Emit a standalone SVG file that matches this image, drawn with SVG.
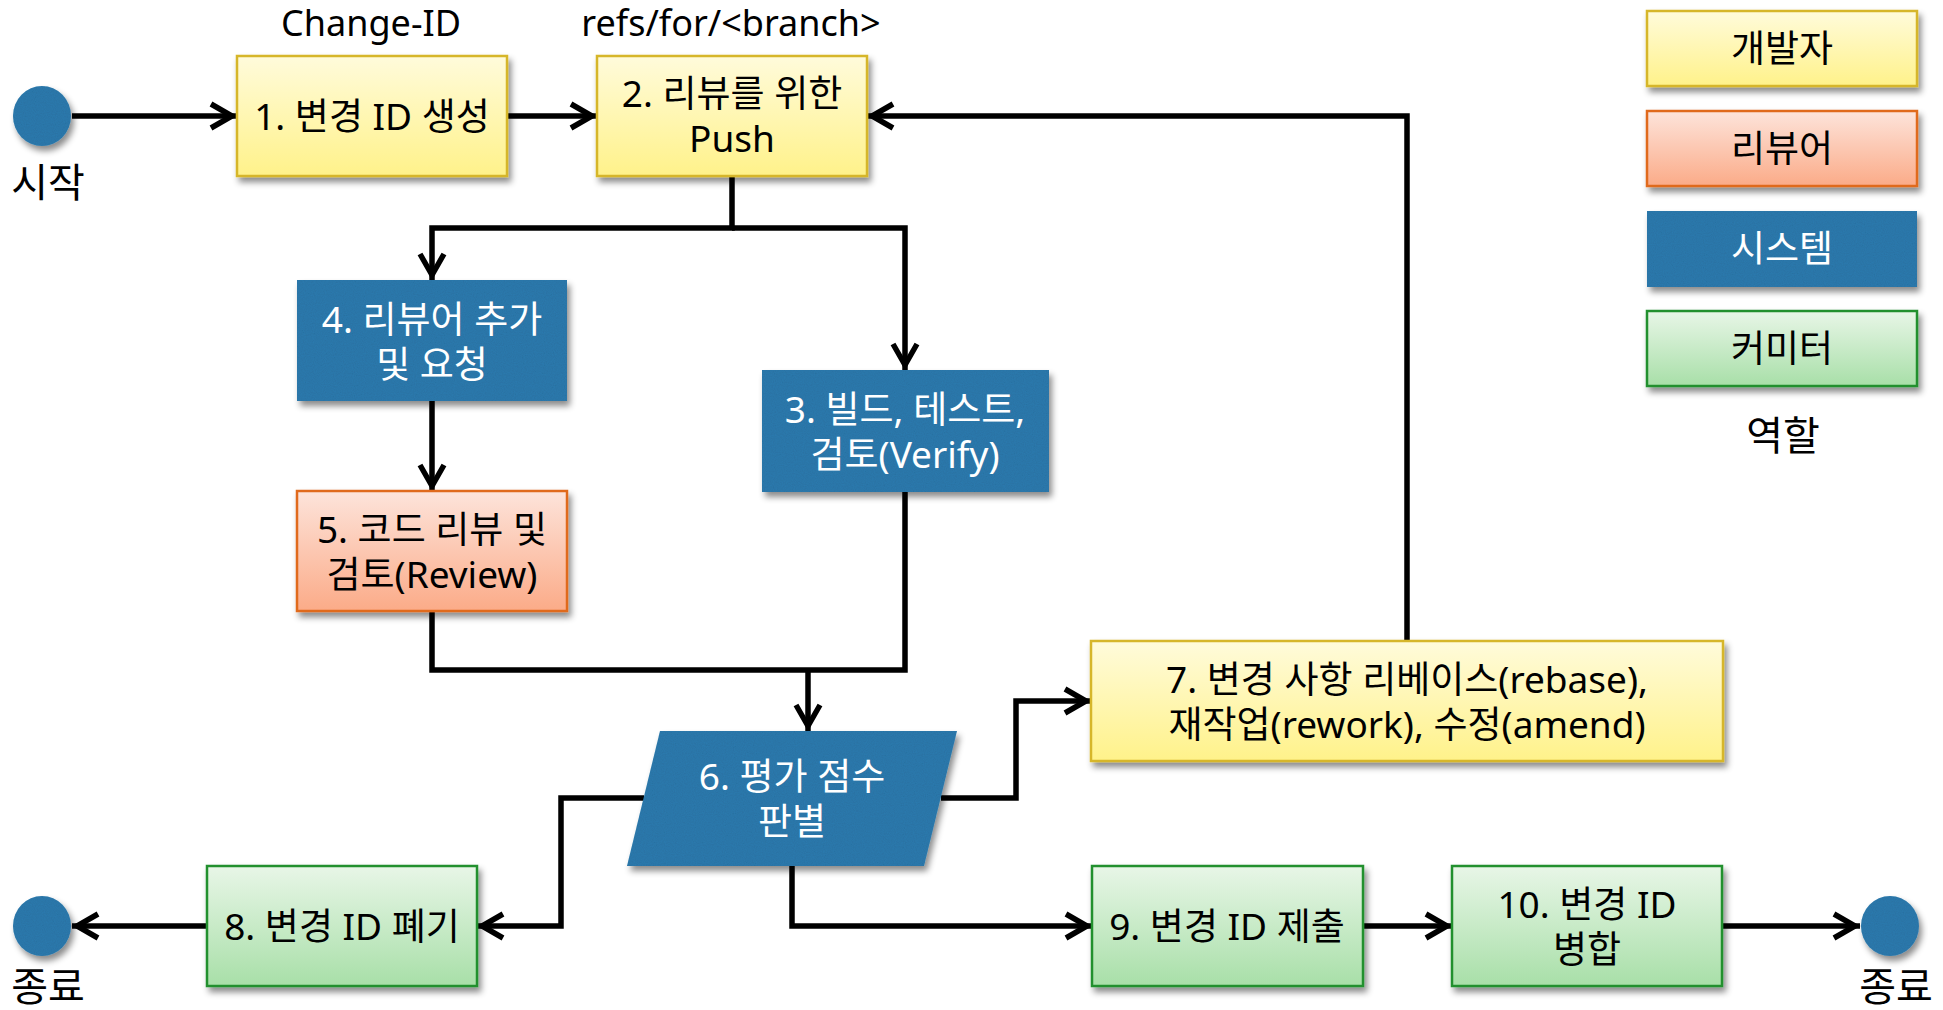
<svg xmlns="http://www.w3.org/2000/svg" width="1943" height="1010" viewBox="0 0 1943 1010">
<defs>
  <linearGradient id="gY" x1="0" y1="0" x2="0" y2="1"><stop offset="0" stop-color="#fffbdb"/><stop offset="1" stop-color="#fff28a"/></linearGradient>
  <linearGradient id="gO" x1="0" y1="0" x2="0" y2="1"><stop offset="0" stop-color="#fde4db"/><stop offset="1" stop-color="#fbab88"/></linearGradient>
  <linearGradient id="gG" x1="0" y1="0" x2="0" y2="1"><stop offset="0" stop-color="#e8f6e7"/><stop offset="1" stop-color="#a8dfa8"/></linearGradient>
  <filter id="sh" x="-10%" y="-10%" width="125%" height="135%">
    <feDropShadow dx="3" dy="5" stdDeviation="3" flood-color="#000" flood-opacity="0.45"/>
  </filter>
  <filter id="tex" x="-10%" y="-10%" width="125%" height="135%">
    <feTurbulence type="fractalNoise" baseFrequency="0.9" numOctaves="2" seed="3" result="n"/>
    <feColorMatrix in="n" type="matrix" values="0 0 0 0 0  0 0 0 0 0  0 0 0 0 0  0 0 0 0.18 0" result="na"/>
    <feComposite in="na" in2="SourceGraphic" operator="in" result="nt"/>
    <feMerge result="m"><feMergeNode in="SourceGraphic"/><feMergeNode in="nt"/></feMerge>
    <feDropShadow dx="3" dy="5" stdDeviation="3" flood-color="#000" flood-opacity="0.45"/>
  </filter>
  <marker id="arr" markerUnits="userSpaceOnUse" markerWidth="34" markerHeight="34" viewBox="-30 -17 34 34" refX="0" refY="0" orient="auto">
    <path d="M-26,-12 L-5,0 L-26,12" fill="none" stroke="#000" stroke-width="5.5"/>
  </marker>
  <style>
    text { font-family: "Noto Sans", "Noto Sans CJK KR", sans-serif; font-size: 37px; text-anchor: middle; fill: #000; }
    .w { fill: #fff; }
    .lbl { font-size: 36px; }
    .big { font-size: 40px; }
    .dev { fill: url(#gY); stroke: #d6b62a; stroke-width: 2.5; filter: url(#sh); }
    .rev { fill: url(#gO); stroke: #e06a1e; stroke-width: 2.5; filter: url(#sh); }
    .com { fill: url(#gG); stroke: #23902f; stroke-width: 2.5; filter: url(#sh); }
    .sys { fill: #2f7cb0; filter: url(#tex); }
    .term { fill: #2f7cb0; filter: url(#tex); }
    .c { fill: none; stroke: #000; stroke-width: 5.5; }
    .a { marker-end: url(#arr); }
  </style>
</defs>
<rect width="1943" height="1010" fill="#fff"/>

<g id="connectors">
  <path class="c a" d="M72,116 H237"/>
  <path class="c a" d="M507,116 H597"/>
  <path class="c a" d="M732,176 V228 H432 V280"/>
  <path class="c a" d="M732,228 H905 V370"/>
  <path class="c a" d="M432,401 V491"/>
  <path class="c" d="M432,611 V670 H905 V492"/>
  <path class="c a" d="M808,670 V731"/>
  <path class="c a" d="M941,798 H1016 V701 H1091"/>
  <path class="c a" d="M644,798 H561 V926 H477"/>
  <path class="c a" d="M792,866 V926 H1092"/>
  <path class="c a" d="M1363,926 H1452"/>
  <path class="c a" d="M1722,926 H1860"/>
  <path class="c a" d="M207,926 H72"/>
  <path class="c a" d="M1407,641 V116 H867"/>
</g>

<g id="start">
  <ellipse class="term" cx="42" cy="116" rx="29" ry="30"/>
  <text class="big" x="48" y="197">시작</text>
</g>
<g id="label-changeid"><text class="lbl" x="371" y="36">Change-ID</text></g>
<g id="label-refs"><text class="lbl" x="731" y="36">refs/for/&lt;branch&gt;</text></g>

<g id="n1">
  <rect class="dev" x="237" y="56" width="270" height="120"/>
  <text x="372" y="130">1. 변경 ID 생성</text>
</g>
<g id="n2">
  <rect class="dev" x="597" y="56" width="270" height="120"/>
  <text x="732" y="107">2. 리뷰를 위한<tspan x="732" dy="45">Push</tspan></text>
</g>
<g id="n4">
  <rect class="sys" x="297" y="280" width="270" height="121"/>
  <text class="w" x="432" y="333">4. 리뷰어 추가<tspan x="432" dy="45">및 요청</tspan></text>
</g>
<g id="n3">
  <rect class="sys" x="762" y="370" width="287" height="122"/>
  <text class="w" x="905" y="423">3. 빌드, 테스트,<tspan x="905" dy="45">검토(Verify)</tspan></text>
</g>
<g id="n5">
  <rect class="rev" x="297" y="491" width="270" height="120"/>
  <text x="432" y="543">5. 코드 리뷰 및<tspan x="432" dy="45">검토(Review)</tspan></text>
</g>
<g id="n6">
  <polygon class="sys" points="660,731 957,731 924,866 627,866"/>
  <text class="w" x="792" y="790">6. 평가 점수<tspan x="792" dy="45">판별</tspan></text>
</g>
<g id="n7">
  <rect class="dev" x="1091" y="641" width="632" height="120"/>
  <text x="1407" y="693">7. 변경 사항 리베이스(rebase),<tspan x="1407" dy="45">재작업(rework), 수정(amend)</tspan></text>
</g>
<g id="n8">
  <rect class="com" x="207" y="866" width="270" height="120"/>
  <text x="342" y="940">8. 변경 ID 폐기</text>
</g>
<g id="n9">
  <rect class="com" x="1092" y="866" width="271" height="120"/>
  <text x="1227" y="940">9. 변경 ID 제출</text>
</g>
<g id="n10">
  <rect class="com" x="1452" y="866" width="270" height="120"/>
  <text x="1587" y="918">10. 변경 ID<tspan x="1587" dy="45">병합</tspan></text>
</g>
<g id="end-left">
  <ellipse class="term" cx="42" cy="926" rx="29" ry="30"/>
  <text class="big" x="48" y="1001">종료</text>
</g>
<g id="end-right">
  <ellipse class="term" cx="1890" cy="926" rx="29" ry="30"/>
  <text class="big" x="1896" y="1001">종료</text>
</g>

<g id="legend">
  <g id="lg-dev"><rect class="dev" x="1647" y="11" width="270" height="75"/><text x="1782" y="62">개발자</text></g>
  <g id="lg-rev"><rect class="rev" x="1647" y="111" width="270" height="75"/><text x="1782" y="162">리뷰어</text></g>
  <g id="lg-sys"><rect class="sys" x="1647" y="211" width="270" height="76"/><text class="w" x="1782" y="262">시스템</text></g>
  <g id="lg-com"><rect class="com" x="1647" y="311" width="270" height="75"/><text x="1782" y="362">커미터</text></g>
  <text class="big" x="1783" y="450">역할</text>
</g>
</svg>
